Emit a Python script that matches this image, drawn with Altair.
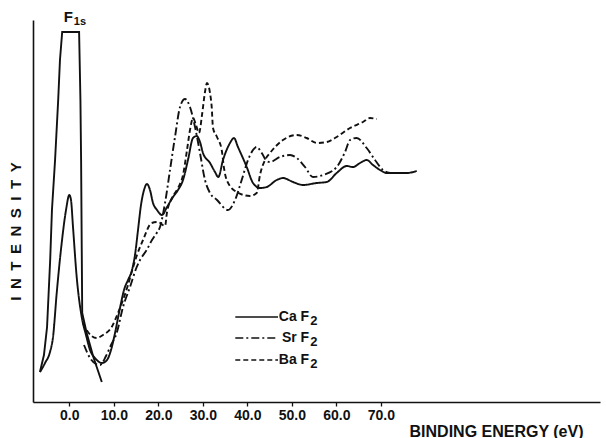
import altair as alt
import pandas as pd

# ---- data (binding energy in eV, intensity in arbitrary units) ----
# truncated F1s main peak (drawn solid, off scale at the top)
f1s_ev = [-6.6, -5.7, -5.0, -4.3, -3.9, -3.2, -2.5, -2.1, -1.6, 2.2, 2.5, 2.65, 2.8, 2.9, 3.9, 5.4, 7.3]
f1s_int = [30, 47, 75, 142, 192, 242, 302, 342, 370, 370, 302, 242, 150, 89, 69, 45, 20]

caf2_ev = [-6.58, -5.46, -4.34, -3.66, -2.83, -1.71, -0.74, 0.0, 0.38, 0.83, 1.66, 2.79, 3.75, 4.65,
           5.78, 7.35, 8.47, 9.37, 10.27, 10.94, 11.62, 12.29, 13.19, 14.09, 14.76, 15.44, 16.11,
           16.79, 17.46, 18.13, 18.81, 19.71, 20.83, 21.96, 23.30, 24.43, 25.55, 26.67, 27.80,
           28.63, 29.37, 30.04, 31.62, 32.74, 33.48, 34.54, 36.11, 37.00, 37.90, 39.87, 41.28,
           42.85, 44.36, 46.61, 48.02, 50.27, 52.52, 55.60, 57.84, 60.09, 62.34, 63.75, 65.33,
           66.83, 68.25, 69.82, 71.33, 73.57, 75.82, 78.07]
caf2_int = [30, 39, 50, 65, 109, 159, 192, 207, 202, 175, 125, 85, 67, 52,
            44, 39, 42, 52, 69, 84, 99, 112, 122, 132, 147, 172, 197,
            212, 218, 212, 199, 192, 187, 195, 205, 212, 222, 242, 264,
            266, 260, 249, 239, 230, 225, 242, 259, 264, 255, 235, 219,
            214, 215, 222, 224, 220, 217, 219, 220, 229, 236, 235, 239,
            242, 237, 232, 229, 229, 229, 231]

srf2_ev = [3.30, 4.65, 6.00, 6.90, 8.25, 9.37, 10.65, 12.07, 13.64, 15.15, 15.89, 17.39, 18.58,
           19.64, 20.38, 21.51, 22.63, 23.75, 24.88, 26.00, 27.12, 28.25, 29.37, 30.49, 31.62,
           33.19, 35.66, 37.24, 38.74, 40.16, 42.11, 43.24, 44.36, 45.10, 47.35, 49.60, 51.10,
           52.97, 54.76, 57.01, 60.09, 61.96, 63.08, 64.58, 66.83, 68.70, 70.49, 72.07]
srf2_int = [57, 44, 38, 37, 46, 57, 69, 95, 115, 135, 142, 152, 162,
            169, 175, 199, 232, 265, 295, 303, 295, 275, 249, 222, 209,
            202, 192, 202, 222, 242, 255, 249, 241, 240, 245, 247, 244,
            235, 225, 227, 235, 250, 262, 264, 254, 242, 232, 229]

baf2_ev = [3.08, 4.20, 6.16, 7.57, 9.53, 10.94, 12.07, 13.19, 14.02, 15.21, 16.56, 18.52, 19.93,
           21.51, 21.96, 23.08, 24.43, 25.55, 26.45, 27.12, 27.80, 28.47, 29.15, 29.82, 30.49,
           30.94, 31.62, 32.00, 32.29, 33.19, 34.25, 34.76, 35.37, 37.62, 40.61, 42.11, 42.85,
           43.98, 45.10, 48.02, 51.10, 53.35, 55.60, 57.84, 60.09, 63.08, 66.00, 67.57, 69.08]
baf2_int = [79, 70, 64, 67, 75, 89, 102, 117, 130, 147, 162, 179, 180,
            176, 190, 204, 214, 227, 252, 272, 284, 277, 269, 287, 310,
            319, 309, 295, 274, 265, 252, 234, 222, 210, 206, 209, 227,
            242, 249, 262, 267, 264, 259, 260, 265, 274, 280, 284, 283]

series_names = ["CaF2", "SrF2", "BaF2"]
label_main = ["Ca F", "Sr F", "Ba F"]
label_sub = ["2", "2", "2"]
x_ticks = [0, 10, 20, 30, 40, 50, 60, 70]

# ---- tables ----
rows = []
for name, xs, ys in zip(series_names, [caf2_ev, srf2_ev, baf2_ev], [caf2_int, srf2_int, baf2_int]):
    for i, (x, y) in enumerate(zip(xs, ys)):
        rows.append({"series": name, "ev": x, "int": y, "i": i})
df = pd.DataFrame(rows)
df_peak = pd.DataFrame({"ev": f1s_ev, "int": f1s_int, "i": list(range(len(f1s_ev)))})

# legend placed inside the plot (data coordinates)
leg = pd.DataFrame({
    "series": series_names,
    "main": label_main,
    "sub": label_sub,
    "ev": [37.3] * 3,
    "ev2": [46.9] * 3,
    "lab": [53.9] * 3,
    "int": [85, 64, 42],
})
ann = pd.DataFrame({"ev": [-0.2, 2.4], "int": [385, 380], "t": ["F", "1s"], "s": [15, 11]})

ink = "#111111"
font = "Liberation Sans"
xscale = alt.Scale(domain=[-8.16, 119.26], nice=False, zero=False)
yscale = alt.Scale(domain=[0, 382], nice=False, zero=False)
xaxis = alt.Axis(values=x_ticks, format=".1f", grid=False, domainColor=ink, domainWidth=1.6,
                 tickColor=ink, tickSize=4, tickWidth=1.3, labelColor=ink, labelFont=font,
                 labelFontSize=14, labelFontWeight="bold", labelPadding=2,
                 title="BINDING ENERGY (eV)", titleFont=font, titleFontSize=16,
                 titleFontWeight="bold", titleColor=ink, titleX=463, titleY=29,
                 titleAlign="center", titleBaseline="middle")
sp = "\u2002"
yaxis = alt.Axis(grid=False, ticks=False, labels=False, domainColor=ink, domainWidth=1.6,
                 title=sp.join("INTENSITY"), titleFont=font, titleFontSize=15,
                 titleFontWeight="bold", titleColor=ink, titleAngle=270, titleX=-18, titleY=211,
                 titleAlign="center", titleBaseline="middle")
X = alt.X("ev:Q", scale=xscale, axis=xaxis)
Y = alt.Y("int:Q", scale=yscale, axis=yaxis)
dash = alt.StrokeDash("series:N", scale=alt.Scale(domain=series_names,
                                                  range=[[1, 0], [8, 3, 2, 3], [5, 3]]), legend=None)

lines = alt.Chart(df).mark_line(interpolate="monotone", color=ink, strokeWidth=1.9).encode(
    x=X, y=Y, strokeDash=dash, detail="series:N", order="i:Q")
peak = alt.Chart(df_peak).mark_line(color=ink, strokeWidth=1.9).encode(x=X, y=Y, order="i:Q")
leg_rules = alt.Chart(leg).mark_rule(color=ink, strokeWidth=1.6).encode(
    x=X, x2="ev2:Q", y=Y, strokeDash=dash)
leg_main = alt.Chart(leg).mark_text(align="right", baseline="middle", font=font,
                                    fontSize=14, fontWeight="bold", color=ink).encode(
    x=alt.X("lab:Q", scale=xscale, axis=xaxis), y=Y, text="main:N")
leg_sub = alt.Chart(leg).mark_text(align="left", baseline="middle", font=font, dx=1, dy=4,
                                   fontSize=13, fontWeight="bold", color=ink).encode(
    x=alt.X("lab:Q", scale=xscale, axis=xaxis), y=Y, text="sub:N")
ann_text = alt.Chart(ann).mark_text(align="center", baseline="middle", font=font,
                                    fontWeight="bold", color=ink).encode(
    x=X, y=Y, text="t:N", size=alt.Size("s:Q", scale=None, legend=None))

chart = alt.layer(peak, lines, leg_rules, leg_main, leg_sub, ann_text).properties(
    width=567, height=382, autosize=alt.AutoSizeParams(type="none"),
    padding={"left": 33, "top": 20, "right": 6, "bottom": 36},
    background="white",
).configure_view(stroke=None)

chart.save("out.html", embed_options={"renderer": "svg", "actions": False})
